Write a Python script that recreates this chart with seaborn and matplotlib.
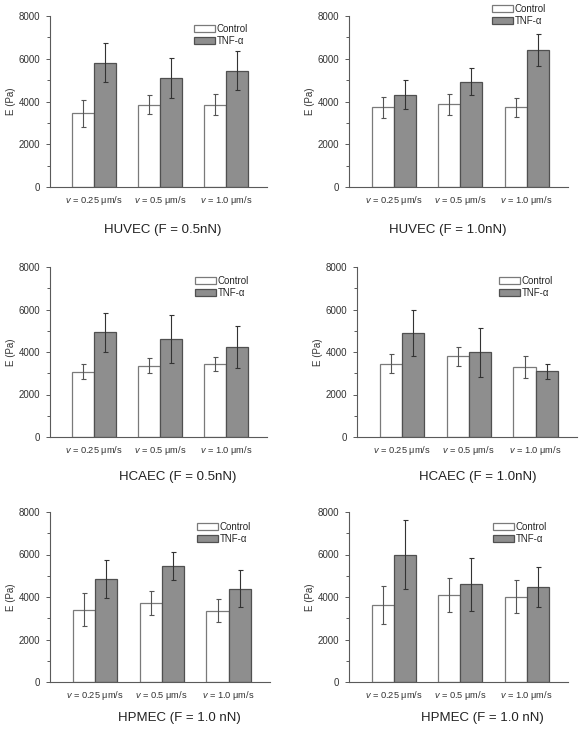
import numpy as np
import pandas as pd
import matplotlib
matplotlib.use("Agg")
import matplotlib.pyplot as plt
from matplotlib.ticker import MultipleLocator
import seaborn as sns

# Data (means and half-width of error bars, Pa)
speeds = [r"$v$ = 0.25 μm/s", r"$v$ = 0.5 μm/s", r"$v$ = 1.0 μm/s"]
groups = ["Control", "TNF-α"]
titles = ["HUVEC (F = 0.5nN)", "HUVEC (F = 1.0nN)",
          "HCAEC (F = 0.5nN)", "HCAEC (F = 1.0nN)",
          "HPMEC (F = 1.0 nN)", "HPMEC (F = 1.0 nN)"]

huvec_05_ctrl = [3440, 3845, 3845]
huvec_05_ctrl_err = [640, 438, 490]
huvec_05_tnf = [5810, 5095, 5440]
huvec_05_tnf_err = [914, 938, 914]

huvec_10_ctrl = [3735, 3860, 3735]
huvec_10_ctrl_err = [485, 493, 446]
huvec_10_tnf = [4314, 4923, 6424]
huvec_10_tnf_err = [672, 641, 742]

hcaec_05_ctrl = [3063, 3360, 3439]
hcaec_05_ctrl_err = [352, 368, 344]
hcaec_05_tnf = [4923, 4611, 4236]
hcaec_05_tnf_err = [922, 1125, 1009]

hcaec_10_ctrl = [3439, 3798, 3298]
hcaec_10_ctrl_err = [446, 446, 516]
hcaec_10_tnf = [4877, 3986, 3095]
hcaec_10_tnf_err = [1079, 1165, 352]

hpmec_a_ctrl = [3407, 3720, 3360]
hpmec_a_ctrl_err = [774, 547, 547]
hpmec_a_tnf = [4830, 5470, 4392]
hpmec_a_tnf_err = [891, 657, 876]

hpmec_b_ctrl = [3610, 4111, 4017]
hpmec_b_ctrl_err = [891, 805, 766]
hpmec_b_tnf = [5986, 4595, 4486]
hpmec_b_tnf_err = [1626, 1243, 946]

panels = [
    (huvec_05_ctrl, huvec_05_ctrl_err, huvec_05_tnf, huvec_05_tnf_err),
    (huvec_10_ctrl, huvec_10_ctrl_err, huvec_10_tnf, huvec_10_tnf_err),
    (hcaec_05_ctrl, hcaec_05_ctrl_err, hcaec_05_tnf, hcaec_05_tnf_err),
    (hcaec_10_ctrl, hcaec_10_ctrl_err, hcaec_10_tnf, hcaec_10_tnf_err),
    (hpmec_a_ctrl, hpmec_a_ctrl_err, hpmec_a_tnf, hpmec_a_tnf_err),
    (hpmec_b_ctrl, hpmec_b_ctrl_err, hpmec_b_tnf, hpmec_b_tnf_err),
]

# Layout in pixels: (left, top, width, height), legend anchor, title x/y (axes fraction)
W, H = 580, 729
boxes = [(50, 16, 217, 171), (349, 16, 219, 171),
         (50, 267, 217, 170), (357, 267, 220, 170),
         (50, 512, 220, 170), (349, 512, 219, 170)]
legend_anchor = [(0.664, 0.953), (0.653, 1.07), (0.668, 0.947),
                 (0.645, 0.947), (0.668, 0.94), (0.657, 0.94)]
title_pos = [(0.52, -0.25), (0.45, -0.25), (0.59, -0.235),
             (0.55, -0.235), (0.59, -0.21), (0.61, -0.21)]

sns.set_theme(style="ticks")
plt.rcParams["font.family"] = ["Liberation Sans", "DejaVu Sans"]
plt.rcParams["mathtext.fontset"] = "custom"
plt.rcParams["mathtext.rm"] = "Liberation Sans"
plt.rcParams["mathtext.it"] = "Liberation Sans:italic"

axis_gray = "#5a5a5a"
fill_colors = ["#ffffff", "#8e8e8e"]
edge_colors = ["#7a7a7a", "#505050"]
err_colors = ["#555555", "#333333"]

fig = plt.figure(figsize=(W / 100, H / 100), dpi=100)

for i, (ctrl, ctrl_err, tnf, tnf_err) in enumerate(panels):
    l, t, w, h = boxes[i]
    ax = fig.add_axes([l / W, 1 - (t + h) / H, w / W, h / H])

    df = pd.DataFrame({
        "speed": speeds * 2,
        "group": [groups[0]] * 3 + [groups[1]] * 3,
        "E": ctrl + tnf,
    })
    sns.barplot(data=df, x="speed", y="E", hue="group", order=speeds,
                hue_order=groups, palette=fill_colors, errorbar=None,
                width=0.66, linewidth=0.9, legend=False, ax=ax)

    for k, (cont, errs) in enumerate(zip(ax.containers, [ctrl_err, tnf_err])):
        xs, ys = [], []
        for p in cont.patches:
            p.set_edgecolor(edge_colors[k])
            p.set_linewidth(0.9)
            xs.append(p.get_x() + p.get_width() / 2)
            ys.append(p.get_height())
        ax.errorbar(xs, ys, yerr=errs, fmt="none", ecolor=err_colors[k],
                    elinewidth=0.8, capsize=1.8, capthick=0.8, zorder=3)

    ax.set_ylim(0, 8000)
    ax.set_xlim(-0.67, 2.62)
    ax.yaxis.set_major_locator(MultipleLocator(2000))
    ax.yaxis.set_minor_locator(MultipleLocator(1000))
    ax.tick_params(axis="y", which="major", length=3, width=0.7,
                   color=axis_gray, labelsize=7, labelcolor="#333333", pad=4)
    ax.tick_params(axis="y", which="minor", length=2.5, width=0.7, color=axis_gray)
    ax.tick_params(axis="x", length=0, labelsize=6.7, labelcolor="#333333", pad=5)
    sns.despine(ax=ax)
    for s in ["left", "bottom"]:
        ax.spines[s].set_color(axis_gray)
        ax.spines[s].set_linewidth(0.8)
    ax.set_xlabel("")
    ax.set_ylabel("E (Pa)", fontsize=7, color="#333333", labelpad=2)

    ax.legend(ax.containers, groups, loc="upper left",
              bbox_to_anchor=legend_anchor[i], frameon=False, fontsize=7,
              handlelength=2.2, handleheight=0.7, handletextpad=0.15,
              labelspacing=0.2, borderpad=0, borderaxespad=0)

    tx, ty = title_pos[i]
    ax.text(tx, ty, titles[i], transform=ax.transAxes, ha="center",
            va="center", fontsize=9.5, color="#222222")

fig.savefig("out.png", dpi=100)
